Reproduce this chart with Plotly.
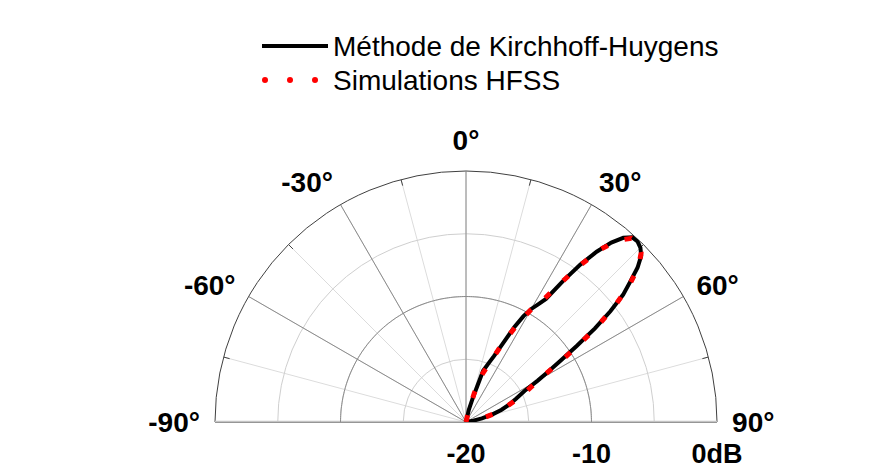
import plotly.graph_objects as go

# Radiation pattern (dB, normalised) versus angle (degrees)
theta_kh = [10, 13, 16, 18.5, 21, 23, 25, 27, 28.5, 30, 31.5, 33, 34.5, 36, 37.5,
            39, 40.5, 42, 43.5, 45, 46.5, 48, 49.5, 51, 52.5, 54, 55.5, 57, 58.5,
            60, 62, 65, 68, 71, 74, 77, 80, 84]
db_kh = [-20, -19.0, -17.9, -15.7, -15.0, -14.3, -13.2, -11.5, -10.4, -9.6, -9.0,
         -8.3, -6.4, -4.5, -2.9, -1.6, -0.7, -0.2, -0.15, -0.35, -0.75, -1.6, -2.8,
         -3.9, -5.5, -7.3, -9.3, -11.0, -12.3, -13.4, -14.7, -15.6, -16.3, -17.0,
         -17.8, -18.7, -19.4, -20]

theta_hfss = [10, 13, 16, 19, 22, 25, 28, 30, 32, 34, 36, 38, 40, 42, 44, 46, 48,
              50, 52, 54, 56, 58, 60, 63, 66, 70, 74, 78, 82, 85]
db_hfss = [-20, -19.2, -17.6, -15.9, -14.8, -13.1, -11.0, -9.7, -8.7, -6.9, -4.6,
           -2.5, -1.1, -0.3, -0.2, -0.6, -1.5, -3.0, -4.9, -7.1, -9.5, -11.8, -13.3,
           -14.6, -15.6, -16.7, -17.8, -18.8, -19.6, -20]

series_names = ["Méthode de Kirchhoff-Huygens", "Simulations HFSS"]

angle_ticks = [-90, -75, -60, -45, -30, -15, 0, 15, 30, 45, 60, 75, 90]
angle_labels = ["-90°", "", "-60°", "", "-30°", "", "0°", "", "30°", "", "60°", "", "90°"]
major_spokes = [-60, -30, 0, 30, 60]
minor_marks = [-75, -45, -15, 15, 45, 75]

db_ticks = [-20, -15, -10, -5, 0]
db_labels = ["-20", "", "-10", "", "0dB"]
db_range = [-20, 0]
major_ring = -10
tick_depth = 0.5  # dB, length of the small marks inside the rim

FONT = "Liberation Sans, Arial, sans-serif"
W, H = 885, 470

fig = go.Figure()

# horizontal diameter of the half-disc
fig.add_trace(go.Scatterpolar(
    theta=[-90, -90, 90, 90], r=[0, -20, -20, 0], mode="lines",
    line=dict(color="#c4c4c4", width=2.5), hoverinfo="skip", showlegend=False))

# darker spokes every 30 degrees
sp_t, sp_r = [], []
for a in major_spokes:
    sp_t += [a, a, None]
    sp_r += [db_range[0], db_range[1], None]
fig.add_trace(go.Scatterpolar(
    theta=sp_t, r=sp_r, mode="lines", line=dict(color="#8c8c8c", width=1),
    hoverinfo="skip", showlegend=False))

# short marks just inside the rim between the labelled angles
mk_t, mk_r = [], []
for a in minor_marks:
    mk_t += [a, a, None]
    mk_r += [db_range[1] - tick_depth, db_range[1], None]
fig.add_trace(go.Scatterpolar(
    theta=mk_t, r=mk_r, mode="lines", line=dict(color="#404040", width=1),
    hoverinfo="skip", showlegend=False))

# darker ring at -10 dB
arc = list(range(-90, 91))
fig.add_trace(go.Scatterpolar(
    theta=arc, r=[major_ring] * len(arc), mode="lines",
    line=dict(color="#8c8c8c", width=1), hoverinfo="skip", showlegend=False))

fig.add_trace(go.Scatterpolar(
    theta=theta_kh, r=db_kh, mode="lines", name=series_names[0],
    line=dict(color="black", width=4), showlegend=False))

fig.add_trace(go.Scatterpolar(
    theta=theta_hfss, r=db_hfss, mode="lines", name=series_names[1],
    line=dict(color="#ff0000", width=5, dash="7px,18px"), showlegend=False))

cx0, cx1 = 215, 717
cy_top, cy_bot = 171, 422
fig.update_layout(
    width=W, height=H,
    margin=dict(l=0, r=0, t=0, b=0),
    paper_bgcolor="white",
    polar=dict(
        domain=dict(x=[cx0 / W, cx1 / W], y=[1 - cy_bot / H, 1 - cy_top / H]),
        sector=[0, 180],
        bgcolor="white",
        angularaxis=dict(
            rotation=90, direction="clockwise",
            tickmode="array", tickvals=angle_ticks, ticktext=angle_labels,
            ticks="outside", ticklen=9, tickcolor="rgba(0,0,0,0)",
            showline=True, linecolor="#404040", linewidth=1,
            gridcolor="#dcdcdc", gridwidth=1,
            tickfont=dict(family=FONT, size=28, color="black", weight="bold"),
            layer="below traces",
        ),
        radialaxis=dict(
            range=db_range, angle=0, side="clockwise",
            tickmode="array", tickvals=db_ticks, ticktext=db_labels,
            ticks="outside", ticklen=8, tickcolor="rgba(0,0,0,0)",
            showline=False,
            gridcolor="#cfcfcf", gridwidth=1,
            tickfont=dict(family=FONT, size=27, color="black", weight="bold"),
            layer="below traces",
        ),
    ),
)

# legend
ly = [46, 80]
fig.add_shape(type="line", xref="paper", yref="paper",
              x0=262 / W, x1=328 / W, y0=1 - ly[0] / H, y1=1 - ly[0] / H,
              line=dict(color="black", width=4))
for dx in [265, 290, 315]:
    fig.add_shape(type="circle", xref="paper", yref="paper",
                  x0=(dx - 3) / W, x1=(dx + 3) / W,
                  y0=1 - (ly[1] + 3) / H, y1=1 - (ly[1] - 3) / H,
                  fillcolor="#ff0000", line=dict(width=0))
for name, yy in zip(series_names, ly):
    fig.add_annotation(text=name, xref="paper", yref="paper",
                       x=331 / W, y=1 - yy / H, xanchor="left", yanchor="middle",
                       showarrow=False, font=dict(family=FONT, size=28, color="black"))

fig.write_html("out.html")
